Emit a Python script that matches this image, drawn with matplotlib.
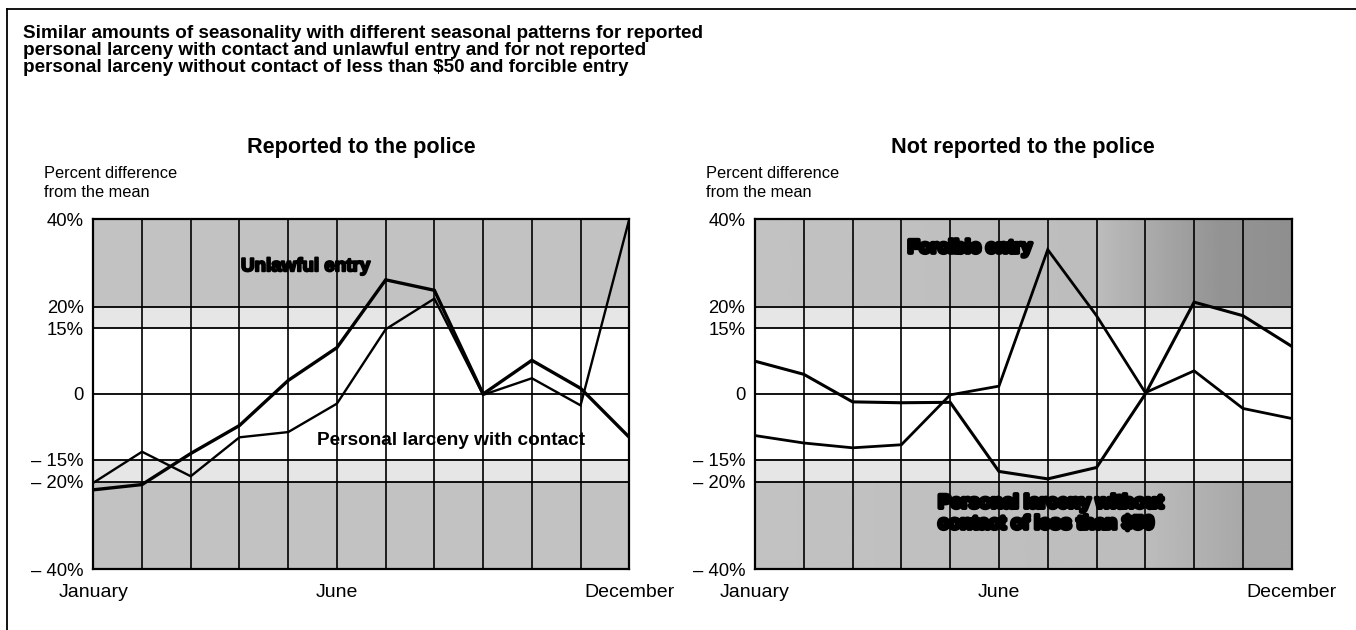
import numpy as np
import matplotlib
matplotlib.use('Agg')
import matplotlib.pyplot as plt
import matplotlib.patheffects as pe

plt.rcParams['font.family'] = ['Liberation Sans', 'DejaVu Sans']

# data (percent difference from the mean)
months = ['January', 'February', 'March', 'April', 'May', 'June', 'July',
          'August', 'September', 'October', 'November', 'December']
reported_unlawful = [-21.9, -20.7, -13.6, -7.2, 3.1, 10.6, 26.1, 23.7, 0.0, 7.7, 1.3, -9.9]
reported_contact = [-20.3, -13.2, -18.8, -9.9, -8.7, -2.2, 14.8, 21.8, -0.2, 3.6, -2.6, 40.0]
notrep_forcible = [-9.5, -11.2, -12.3, -11.6, -0.2, 1.8, 33.0, 17.9, 0.3, 5.3, -3.3, -5.6]
notrep_larceny50 = [7.5, 4.5, -1.8, -2.0, -1.9, -17.7, -19.4, -16.8, 0.0, 21.0, 17.9, 10.9]

yticks = [-40, -20, -15, 0, 15, 20, 40]
ytick_labels = ['\u2013 40%', '\u2013 20%', '\u2013 15%', '0', '15%', '20%', '40%']
xtick_pos = [0, 5, 11]
xtick_labels = ['January', 'June', 'December']
title_lines = ['Similar amounts of seasonality with different seasonal patterns for reported',
               'personal larceny with contact and unlawful entry and for not reported',
               'personal larceny without contact of less than $50 and forcible entry']

W, H = 1356, 630
fig = plt.figure(figsize=(W / 100, H / 100), dpi=100)


def px_axes(left, top, right, bottom):
    return fig.add_axes([left / W, 1 - bottom / H, (right - left) / W, (bottom - top) / H])


def ftext(xp, yp, s, **kw):
    return fig.text(xp / W, 1 - yp / H, s, **kw)


def setup_panel(ax, left, right, title, dark_right=False):
    x = np.arange(len(months))
    # shaded bands
    if dark_right:
        # print gets darker towards the right of this panel
        cols = np.linspace(0, 11, 200)
        shade = np.interp(cols, [0, 7, 9.5, 11], [0.76, 0.74, 0.58, 0.56])
        ax.imshow(np.tile(shade, (2, 1)), cmap='gray', vmin=0, vmax=1, aspect='auto',
                  extent=(0, 11, 20, 40), zorder=0)
        shade2 = np.interp(cols, [0, 8, 10, 11], [0.76, 0.74, 0.66, 0.66])
        ax.imshow(np.tile(shade2, (2, 1)), cmap='gray', vmin=0, vmax=1, aspect='auto',
                  extent=(0, 11, -40, -20), zorder=0)
    else:
        ax.axhspan(20, 40, color='#c2c2c2', lw=0, zorder=0)
        ax.axhspan(-40, -20, color='#c2c2c2', lw=0, zorder=0)
    ax.axhspan(15, 20, color='#e6e6e6', lw=0, zorder=0)
    ax.axhspan(-20, -15, color='#e6e6e6', lw=0, zorder=0)
    ax.set_xlim(0, len(months) - 1)
    ax.set_ylim(-40, 40)
    for xi in x[1:-1]:
        ax.axvline(xi, color='black', lw=1.2, zorder=1)
    for yv in [20, 15, 0, -15, -20]:
        ax.axhline(yv, color='black', lw=1.3, zorder=1)
    for s in ax.spines.values():
        s.set_linewidth(1.6)
    ax.set_yticks(yticks)
    ax.set_yticklabels(ytick_labels, fontsize=13.3)
    ax.set_xticks(xtick_pos)
    ax.set_xticklabels(xtick_labels, fontsize=14)
    ax.tick_params(axis='y', length=0, pad=7)
    ax.tick_params(axis='x', length=0, pad=11)
    ftext((left + right) / 2, 153.3, title, fontsize=15.6, fontweight='bold',
          ha='center', va='baseline')
    ftext(left - 49, 178.3, 'Percent difference', fontsize=11.8, ha='left', va='baseline')
    ftext(left - 49, 196.7, 'from the mean', fontsize=11.8, ha='left', va='baseline')
    return x


# left panel: reported to the police
ax1 = px_axes(93.3, 219, 629.3, 569)
x = setup_panel(ax1, 93.3, 629.3, 'Reported to the police')
ax1.plot(x, reported_unlawful, color='black', lw=2.4, zorder=3, solid_joinstyle='miter')
ax1.plot(x, reported_contact, color='black', lw=1.7, zorder=3, solid_joinstyle='miter')
ax1.text(4.355, 29.1, 'Unlawful entry', fontsize=13.5, fontweight='bold', ha='center', va='center',
         path_effects=[pe.withStroke(linewidth=1.5, foreground='black')], zorder=4)
ax1.text(7.35, -10.6, 'Personal larceny with contact', fontsize=13.7, fontweight='bold',
         ha='center', va='center', zorder=4)

# right panel: not reported to the police
ax2 = px_axes(755, 219, 1291.7, 569)
x = setup_panel(ax2, 755, 1291.7, 'Not reported to the police', dark_right=True)
ax2.plot(x, notrep_forcible, color='black', lw=2.0, zorder=3, solid_joinstyle='miter')
ax2.plot(x, notrep_larceny50, color='black', lw=2.2, zorder=3, solid_joinstyle='miter')
ax2.text(4.40, 33.3, 'Forcible entry', fontsize=13.5, fontweight='bold', ha='center', va='center',
         path_effects=[pe.withStroke(linewidth=3, foreground='black')], zorder=4)
ax2.text(3.755, -27.4, 'Personal larceny without\ncontact of less than $50', fontsize=13.7,
         fontweight='bold', ha='left', va='center', linespacing=1.3,
         path_effects=[pe.withStroke(linewidth=3, foreground='black')], zorder=4)

# main title, one line at a time, and the frame
for i, line in enumerate(title_lines):
    ftext(23, 38.3 + 16.6 * i, line, fontsize=13.6, fontweight='bold', ha='left', va='baseline')
fig.add_artist(plt.Line2D([6.7 / W, 6.7 / W], [0, 1 - 9.3 / H], color='black', lw=1.3))
fig.add_artist(plt.Line2D([6.7 / W, 1], [1 - 9.3 / H, 1 - 9.3 / H], color='black', lw=1.3))

fig.savefig('out.png', dpi=100)
